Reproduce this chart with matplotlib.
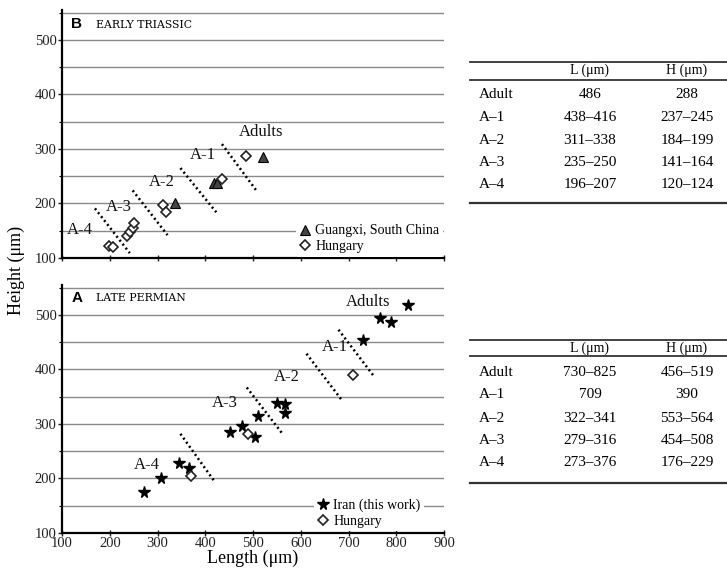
import numpy as np
import matplotlib
matplotlib.use("Agg")
import matplotlib.pyplot as plt
from matplotlib.lines import Line2D

plt.rcParams['font.family'] = ['Liberation Serif', 'DejaVu Serif']

W, H = 727, 579

# ---- panel B: early triassic ----
b_guangxi_x = [337, 418, 424, 520]
b_guangxi_y = [200, 238, 238, 285]
b_hungary_x = [198, 206, 236, 243, 249, 250, 311, 318, 436, 486]
b_hungary_y = [122, 121, 141, 147, 155, 164, 197, 185, 245, 288]
b_seps = [(169, 191, 242, 109), (248, 224, 321, 142), (348, 265, 423, 184), (435, 309, 506, 225)]
b_labels = ['A-4', 'A-3', 'A-2', 'A-1', 'Adults']
b_label_xy = [(137, 151), (219, 193), (310, 240), (394, 289), (517, 331)]

# ---- panel A: late permian ----
a_iran_x = [272, 308, 345, 365, 452, 478, 505, 510, 550, 568, 566, 730, 765, 790, 825]
a_iran_y = [176, 200, 229, 220, 285, 297, 277, 315, 338, 337, 320, 455, 495, 488, 519]
a_hungary_x = [370, 490, 709]
a_hungary_y = [205, 281, 390]
a_seps = [(348, 282, 419, 195), (487, 367, 560, 284), (612, 429, 685, 345), (679, 473, 752, 389)]
a_labels = ['A-4', 'A-3', 'A-2', 'A-1', 'Adults']
a_label_xy = [(277, 225), (440, 338), (571, 386), (671, 441), (742, 524)]

# ---- tables ----
row_names = ['Adult', 'A\u20131', 'A\u20132', 'A\u20133', 'A\u20134']
tb_L = ['486', '438\u2013416', '311\u2013338', '235\u2013250', '196\u2013207']
tb_H = ['288', '237\u2013245', '184\u2013199', '141\u2013164', '120\u2013124']
ta_L = ['730\u2013825', '709', '322\u2013341', '279\u2013316', '273\u2013376']
ta_H = ['456\u2013519', '390', '553\u2013564', '454\u2013508', '176\u2013229']

fig = plt.figure(figsize=(W / 100, H / 100), dpi=100)


def px_axes(x0, y0, x1, y1):
    return fig.add_axes([x0 / W, 1 - y1 / H, (x1 - x0) / W, (y1 - y0) / H])


def style_axes(ax, show_xlabels):
    ax.set_xlim(100, 900)
    ax.set_ylim(100, 555)
    for y in range(150, 551, 50):
        ax.axhline(y, color='#8a8a8a', lw=1.0, zorder=0)
    ax.spines['top'].set_visible(False)
    ax.spines['right'].set_visible(False)
    ax.spines['left'].set_linewidth(1.6)
    ax.spines['bottom'].set_linewidth(1.6)
    ax.set_xticks(range(100, 901, 100))
    ax.set_yticks(range(100, 501, 100))
    ax.set_yticks(range(150, 551, 100), minor=True)
    ax.tick_params(axis='both', which='major', length=3, width=1, labelsize=10.5,
                   colors='#222222', pad=1)
    ax.tick_params(axis='y', which='minor', length=2, width=0.8)
    ax.tick_params(axis='x', direction='inout', length=4)
    if not show_xlabels:
        ax.set_xticklabels([])


def seps(ax, segs):
    for x0, y0, x1, y1 in segs:
        ax.plot([x0, x1], [y0, y1], color='black', lw=1.8, ls=(0, (0.8, 1.2)), zorder=2)


def stage_labels(ax, labels, xy):
    for t, (x, y) in zip(labels, xy):
        ax.text(x, y, t, ha='center', va='center', fontsize=12, color='#111111')


def white_legend(ax, anchor):
    leg = ax.legend(loc='upper left', bbox_to_anchor=anchor, frameon=True, fontsize=10,
                    handlelength=0.8, handletextpad=0.35, borderpad=0.25,
                    labelspacing=0.2, borderaxespad=0)
    leg.get_frame().set_edgecolor('none')
    leg.get_frame().set_facecolor('white')
    leg.get_frame().set_alpha(1)
    return leg


# top panel
axb = px_axes(62, 10, 444, 258)
style_axes(axb, False)
seps(axb, b_seps)
axb.plot(b_guangxi_x, b_guangxi_y, ls='none', marker='^', ms=6.5, mfc='#444444',
         mec='black', mew=0.8, label='Guangxi, South China', zorder=3)
axb.plot(b_hungary_x, b_hungary_y, ls='none', marker='D', ms=5.5, mfc='white',
         mec='#222222', mew=1.2, label='Hungary', zorder=3)
stage_labels(axb, b_labels, b_label_xy)
axb.text(131, 529, 'B', fontsize=11, fontweight='bold', family='Liberation Sans',
         ha='center', va='center')
axb.text(172, 528, 'EARLY TRIASSIC', fontsize=7.8, family='DejaVu Serif',
         ha='left', va='center')
white_legend(axb, ((296 - 62) / 382, (258 - 221) / 248))

# bottom panel
axa = px_axes(62, 285, 444, 533)
style_axes(axa, True)
seps(axa, a_seps)
axa.plot(a_iran_x, a_iran_y, ls='none', marker='*', ms=8.5, color='black',
         label='Iran (this work)', zorder=3)
axa.plot(a_hungary_x, a_hungary_y, ls='none', marker='D', ms=5.5, mfc='white',
         mec='#222222', mew=1.2, label='Hungary', zorder=3)
stage_labels(axa, a_labels, a_label_xy)
axa.text(131, 532, 'A', fontsize=11, fontweight='bold', family='Liberation Sans',
         ha='center', va='center')
axa.text(172, 531, 'LATE PERMIAN', fontsize=7.8, family='DejaVu Serif',
         ha='left', va='center')
white_legend(axa, ((314 - 62) / 382, (533 - 495) / 248))
axa.set_xlabel('Length (\u03bcm)', fontsize=13, labelpad=0)

fig.text(16 / W, 1 - 270 / H, 'Height (\u03bcm)', rotation=90, ha='center', va='center',
         fontsize=13)


# tables
def draw_table(top, head_y, head_line, rows_y, bottom, Lvals, Hvals):
    for y, lw in [(top, 1.3), (head_line, 1.3), (bottom, 1.6)]:
        fig.add_artist(Line2D([470 / W, 1], [1 - y / H, 1 - y / H], color='#333333', lw=lw))
    fig.text(590 / W, 1 - head_y / H, 'L (\u03bcm)', ha='center', va='center', fontsize=10)
    fig.text(687 / W, 1 - head_y / H, 'H (\u03bcm)', ha='center', va='center', fontsize=10)
    for name, lv, hv, y in zip(row_names, Lvals, Hvals, rows_y):
        fig.text(479 / W, 1 - y / H, name, ha='left', va='center', fontsize=11)
        fig.text(590 / W, 1 - y / H, lv, ha='center', va='center', fontsize=11)
        fig.text(687 / W, 1 - y / H, hv, ha='center', va='center', fontsize=11)


draw_table(62, 70, 80, [94, 117, 140, 163, 185], 203, tb_L, tb_H)
draw_table(340, 348, 356, [372, 395, 418, 441, 463], 483, ta_L, ta_H)

fig.savefig('out.png', dpi=100)
